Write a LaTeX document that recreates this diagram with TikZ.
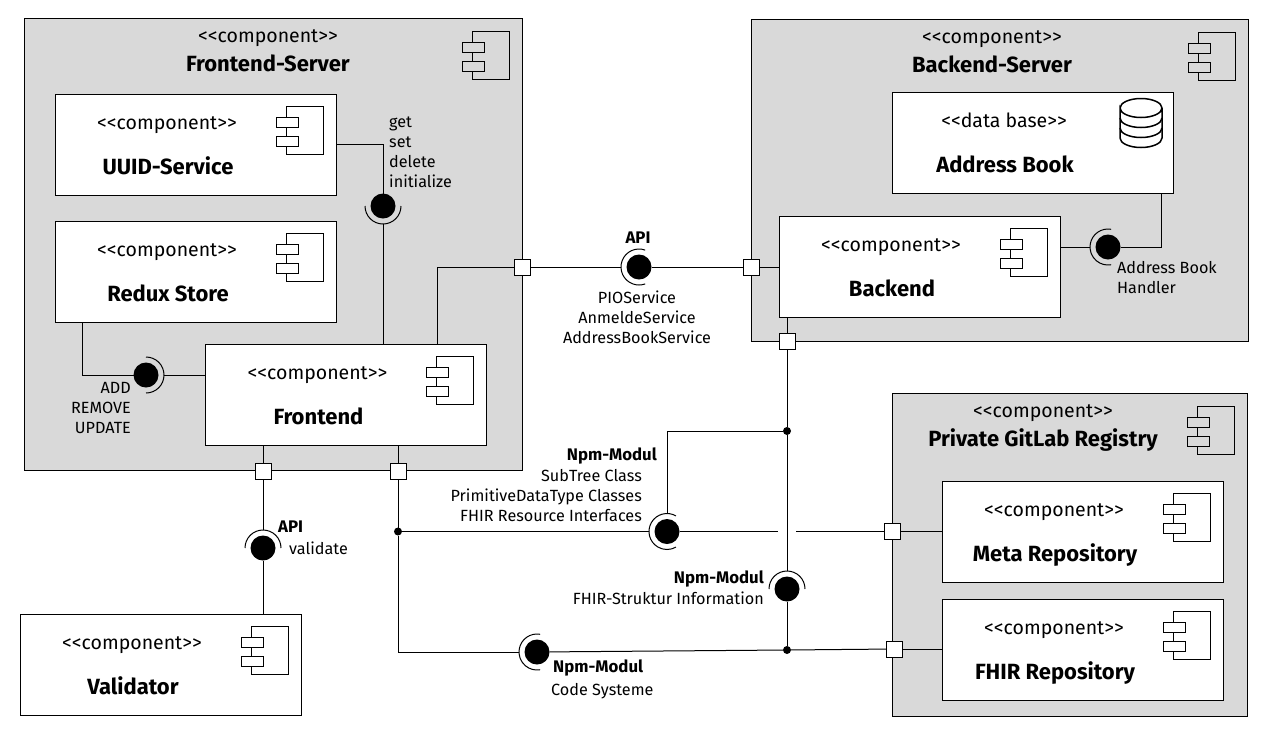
\documentclass[tikz,border=0pt]{standalone}
\usepackage{fontspec}
\setmainfont{Fira Sans}
\definecolor{fondo}{HTML}{D9D9D9}
\tikzset{
    caja/.style={draw, line width=1pt, anchor=north west, inner sep=0pt, outer sep=0pt},
    servidor/.style={caja, fill=fondo},
    modulo/.style={caja, fill=white, minimum width=281pt, minimum height=101pt},
    puerto/.style={draw, fill=white, line width=1pt, minimum size=16pt, inner sep=0pt, outer sep=0pt},
    bola/.style={circle, fill=black, minimum size=25pt, inner sep=0pt, outer sep=0pt},
    hueco/.style={circle, minimum size=36pt, inner sep=0pt, outer sep=0pt},
    punto/.style={circle, fill=black, minimum size=8pt, inner sep=0pt, outer sep=0pt},
    linea/.style={line width=1pt},
    tipo/.style={font=\fontsize{19.5}{20}\selectfont, inner sep=0pt, anchor=base},
    titulo/.style={font=\fontsize{22}{24}\selectfont\bfseries, inner sep=0pt, anchor=base},
    texto/.style={font=\fontsize{16.2}{20}\selectfont, inner sep=0pt},
    textob/.style={font=\fontsize{16.8}{20}\selectfont\bfseries, inner sep=0pt}
}
% Icono de componente en la esquina de una caja
\newcommand{\icono}[2]{
    \draw[linea, shift={(#1.north east)}] (-50,#2) rectangle ++(37,48);
    \draw[linea, shift={(#1.north east)}, fill=#1col] (-60,#2+11) rectangle (-38,#2+21);
    \draw[linea, shift={(#1.north east)}, fill=#1col] (-60,#2+30) rectangle (-38,#2+40);
}
% Bola con su arco (angulo inicial y final)
\newcommand{\enchufe}[4]{
    \node[bola] (b#1) at (#2) {};
    \node[hueco] (s#1) at (#2) {};
    \draw[linea] ([shift={(#3:18pt)}]b#1.center) arc[start angle=#3, end angle=#4, radius=18pt];
}
\begin{document}
\begin{tikzpicture}[x=1pt, y=-1pt]
    \useasboundingbox (0,0) rectangle (1270,732);
    \colorlet{frontServercol}{fondo}
    \colorlet{backServercol}{fondo}
    \colorlet{gitServercol}{fondo}

    % Servidores grises
    \foreach \n/\x/\y/\w/\h/\c/\t in {frontServer/24/18/498/452/244/Frontend-Server,
                                      backServer/751/19/497/322/241/Backend-Server,
                                      gitServer/892/393/355/323/151/Private GitLab Registry} {
        \node[servidor, minimum width=\w pt, minimum height=\h pt] (\n) at (\x,\y) {};
        \node[tipo] (\n T) at ([xshift=\c pt, yshift=-24pt]\n.north west) {<{}<component>{}>};
        \node[titulo] (\n N) at ([xshift=\c pt, yshift=-53pt]\n.north west) {\t};
        \icono{\n}{13.5}
    }

    % Cajas blancas
    \foreach \n/\x/\y/\t in {uuid/55/94/UUID-Service, redux/55/221/Redux Store,
                             front/205.5/344.5/Frontend, back/779/216.5/Backend,
                             meta/942/481/Meta Repository, fhir/942/599/FHIR Repository,
                             validator/20/614.5/Validator} {
        \colorlet{\n col}{white}
        \node[modulo] (\n) at (\x,\y) {};
        \node[tipo] (\n T) at ([xshift=112pt, yshift=-35pt]\n.north west) {<{}<component>{}>};
        \node[titulo] (\n N) at ([xshift=113pt, yshift=-80pt]\n.north west) {\t};
        \icono{\n}{12}
    }

    % Base de datos
    \node[modulo] (book) at (892,92) {};
    \node[tipo] (bookT) at ([xshift=112pt, yshift=-35pt]book.north west) {<{}<data base>{}>};
    \node[titulo] (bookN) at ([xshift=113pt, yshift=-80pt]book.north west) {Address Book};
    \draw[line width=1.5pt] (1120,108) arc[x radius=21pt, y radius=9.5pt, start angle=180, end angle=-180]
        -- (1120,138) arc[x radius=21pt, y radius=9.5pt, start angle=180, end angle=360] -- (1162,108);
    \foreach \y in {118,128}
        \draw[line width=1.5pt] (1120,\y) arc[x radius=21pt, y radius=9.5pt, start angle=180, end angle=360];

    % Puertos
    \foreach \n/\x/\y in {pFrontApi/522/267, pBackApi/751/267, pBackGit/787/341, pFrontVal/263/471,
                          pFrontNpm/398/471, pMeta/892/531.5, pFhir/894/649}
        \node[puerto] (\n) at (\x,\y) {};

    % Bolas con su arco
    \enchufe{Uuid}{383,206}{180}{360}
    \enchufe{Api}{639,267}{70}{290}
    \enchufe{Book}{1108,247}{80}{280}
    \enchufe{Redux}{146,375}{-90}{90}
    \enchufe{Val}{263,548}{0}{180}
    \enchufe{Sub}{667,531.5}{60}{300}
    \enchufe{Struct}{787,589}{0}{180}
    \enchufe{Code}{537,652}{80}{280}

    % Puntos de union
    \foreach \n/\x/\y in {dTop/787/431, dBottom/787/650, dFront/398/531.5}
        \node[punto] (\n) at (\x,\y) {};
    \coordinate (gapL) at (778,531.5);
    \coordinate (gapR) at (796,531.5);

    % Conexiones
    \draw[linea] (uuid.east) -| (bUuid);
    \draw[linea] (sUuid) -- (sUuid |- front.north);
    \draw[linea] ([xshift=91pt]front.north) |- (pFrontApi);
    \draw[linea] (pFrontApi) -- (sApi);
    \draw[linea] (bApi) -- (pBackApi);
    \draw[linea] (pBackApi) -- (pBackApi -| back.west);
    \draw[linea] (back.east |- sBook) -- (sBook);
    \draw[linea] (bBook) -| (book.south -| 1161,0);
    \draw[linea] ([xshift=-113.5pt]redux.south) |- (bRedux);
    \draw[linea] (sRedux) -- (sRedux -| front.west);
    \draw[linea] (pFrontVal |- front.south) -- (pFrontVal);
    \draw[linea] (pFrontVal) -- (sVal);
    \draw[linea] (bVal) -- (bVal |- validator.north);
    \draw[linea] (pFrontNpm |- front.south) -- (pFrontNpm);
    \draw[linea] (pFrontNpm) -- (dFront);
    \draw[linea] (dFront) -- (sSub);
    \draw[linea] (bSub) -- (gapL);
    \draw[linea] (gapR) -- (pMeta);
    \draw[linea] (pMeta) -- (pMeta -| meta.west);
    \draw[linea] (dTop) -| (sSub);
    \draw[linea] (pBackGit |- back.south) -- (pBackGit);
    \draw[linea] (pBackGit) -- (dTop);
    \draw[linea] (dTop) -- (sStruct);
    \draw[linea] (bStruct) -- (dBottom);
    \draw[linea] (dFront) |- (sCode);
    \draw[linea] (bCode) -- (dBottom);
    \draw[linea] (dBottom) -- (pFhir);
    \draw[linea] (pFhir) -- (pFhir -| fhir.west);

    % Etiquetas
    \node[texto, anchor=west, align=left] (lUuid) at (389,152.5) {get\\set\\delete\\initialize};
    \node[textob] (lApi) at (638,238) {API};
    \node[texto, align=center] (lApiS) at (637,317) {PIOService\\AnmeldeService\\AddressBookService};
    \node[texto, anchor=west, align=left] (lBook) at (1117,278) {Address Book\\Handler};
    \node[texto, anchor=east, align=right] (lRedux) at (131,408) {ADD\\REMOVE\\UPDATE};
    \node[textob, anchor=east] (lSub) at (657,456) {Npm-Modul};
    \node[texto, anchor=east, align=right] (lSubS) at (642,496) {SubTree Class\\PrimitiveDataType Classes\\FHIR Resource Interfaces};
    \node[textob, anchor=east] (lStruct) at (764,579) {Npm-Modul};
    \node[texto, anchor=east] (lStructS) at (764,598) {FHIR-Struktur Information};
    \node[textob, anchor=west] (lVal) at (278,527) {API};
    \node[texto, anchor=west] (lValS) at (289,548) {validate};
    \node[textob, anchor=west] (lCode) at (553,668) {Npm-Modul};
    \node[texto, anchor=west] (lCodeS) at (551,691) {Code Systeme};
\end{tikzpicture}
\end{document}
